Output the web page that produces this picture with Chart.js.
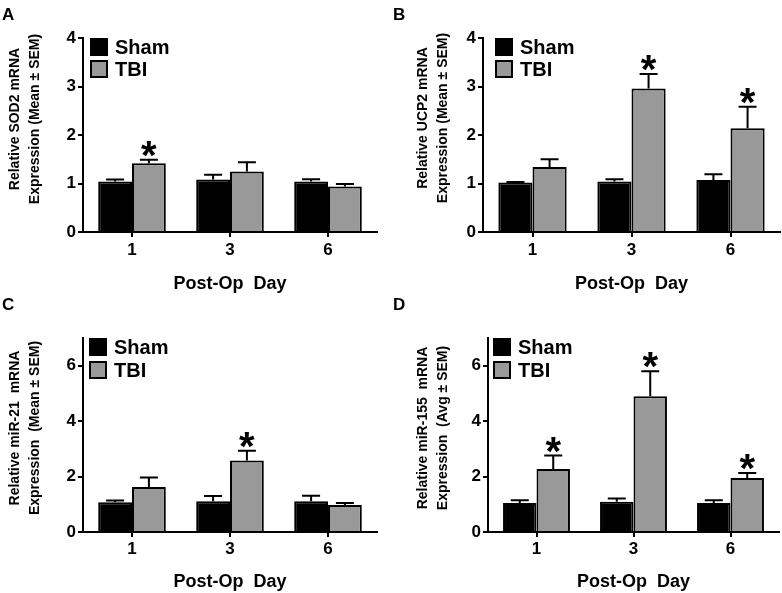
<!DOCTYPE html>
<html>
<head>
<meta charset="utf-8">
<script src="https://cdn.jsdelivr.net/npm/chart.js@4"></script>
<style>
  body { margin: 0; background: #fff; width: 782px; height: 593px; position: relative; overflow: hidden; }
  .panel { position: absolute; }
</style>
</head>
<body>
<div class="panel" style="left:0;top:0"><canvas id="chart-a" width="391" height="296"></canvas></div>
<div class="panel" style="left:391px;top:0"><canvas id="chart-b" width="391" height="296"></canvas></div>
<div class="panel" style="left:0;top:296px"><canvas id="chart-c" width="391" height="297"></canvas></div>
<div class="panel" style="left:391px;top:296px"><canvas id="chart-d" width="391" height="297"></canvas></div>
<script>
const FONT = "'Liberation Sans', Arial, Helvetica, sans-serif";
const DAYS = ['1', '3', '6'];
const SERIES = ['Sham', 'TBI'];

// A - SOD2
const SOD2_SHAM = [1.04, 1.08, 1.04];
const SOD2_SHAM_SEM = [0.04, 0.10, 0.05];
const SOD2_TBI = [1.42, 1.25, 0.94];
const SOD2_TBI_SEM = [0.07, 0.19, 0.05];
const SOD2_SIG = [1, 0, 0];

// B - UCP2
const UCP2_SHAM = [1.02, 1.04, 1.07];
const UCP2_SHAM_SEM = [0.01, 0.05, 0.12];
const UCP2_TBI = [1.34, 2.96, 2.14];
const UCP2_TBI_SEM = [0.16, 0.30, 0.44];
const UCP2_SIG = [0, 1, 1];

// C - miR-21
const MIR21_SHAM = [1.07, 1.11, 1.11];
const MIR21_SHAM_SEM = [0.07, 0.19, 0.20];
const MIR21_TBI = [1.62, 2.58, 0.97];
const MIR21_TBI_SEM = [0.35, 0.35, 0.08];
const MIR21_SIG = [0, 1, 0];

// D - miR-155
const MIR155_SHAM = [1.05, 1.09, 1.05];
const MIR155_SHAM_SEM = [0.10, 0.12, 0.10];
const MIR155_TBI = [2.27, 4.90, 1.95];
const MIR155_TBI_SEM = [0.49, 0.90, 0.18];
const MIR155_SIG = [1, 1, 1];

const PANELS = [
  { id: 'chart-a', letter: 'A', sham: SOD2_SHAM, shamSem: SOD2_SHAM_SEM, tbi: SOD2_TBI, tbiSem: SOD2_TBI_SEM, sig: SOD2_SIG,
    yTitle: ['Relative SOD2 mRNA', 'Expression (Mean \u00b1 SEM)'], max: 4, step: 1,
    axisX: 83, top: 38, right: 14, xHeight: 64, titleX: [15, 35], titleY: 119, legX: 90, legY: 38, legGap: 22, xTitlePad: 1, tickPad: 3, letterY: 20 },
  { id: 'chart-b', letter: 'B', sham: UCP2_SHAM, shamSem: UCP2_SHAM_SEM, tbi: UCP2_TBI, tbiSem: UCP2_TBI_SEM, sig: UCP2_SIG,
    yTitle: ['Relative UCP2 mRNA', 'Expression (Mean \u00b1 SEM)'], max: 4, step: 1,
    axisX: 92, top: 38, right: 2, xHeight: 64, titleX: [32, 52], titleY: 118, legX: 104, legY: 38, legGap: 22, xTitlePad: 1, tickPad: 3, letterY: 20 },
  { id: 'chart-c', letter: 'C', sham: MIR21_SHAM, shamSem: MIR21_SHAM_SEM, tbi: MIR21_TBI, tbiSem: MIR21_TBI_SEM, sig: MIR21_SIG,
    yTitle: ['Relative miR-21  mRNA', 'Expression  (Mean \u00b1 SEM)'], max: 7, step: 2,
    axisX: 83, top: 42, right: 14, xHeight: 61, titleX: [15, 35], titleY: 132, legX: 89, legY: 42, legGap: 23, xTitlePad: 0, tickPad: 2, letterY: 14 },
  { id: 'chart-d', letter: 'D', sham: MIR155_SHAM, shamSem: MIR155_SHAM_SEM, tbi: MIR155_TBI, tbiSem: MIR155_TBI_SEM, sig: MIR155_SIG,
    yTitle: ['Relative miR-155  mRNA', 'Expression  (Avg \u00b1 SEM)'], max: 7, step: 2,
    axisX: 97, top: 42, right: 3, xHeight: 61, titleX: [32, 52], titleY: 132, legX: 102, legY: 42, legGap: 23, xTitlePad: 0, tickPad: 2, letterY: 14 },
];

const GRAY = '#999999';

const decorPlugin = {
  id: 'decor',
  afterDatasetsDraw(chart, args, opts) {
    const ctx = chart.ctx;
    const yScale = chart.scales.y;
    ctx.save();
    ctx.strokeStyle = '#000';
    ctx.fillStyle = '#000';
    ctx.lineWidth = 2;
    chart.data.datasets.forEach((ds, di) => {
      const meta = chart.getDatasetMeta(di);
      meta.data.forEach((bar, i) => {
        const top = yScale.getPixelForValue(ds.data[i] + ds.sem[i]);
        ctx.beginPath();
        ctx.moveTo(bar.x, bar.y);
        ctx.lineTo(bar.x, top);
        ctx.moveTo(bar.x - 9, top);
        ctx.lineTo(bar.x + 9, top);
        ctx.stroke();
        if (ds.sig && ds.sig[i]) {
          // size the asterisk so the glyph is ~16px tall
          ctx.font = `bold 30px ${FONT}`;
          const m0 = ctx.measureText('*');
          const h0 = m0.actualBoundingBoxAscent + m0.actualBoundingBoxDescent;
          const size = 30 * 16 / h0;
          ctx.font = `bold ${size}px ${FONT}`;
          const m = ctx.measureText('*');
          ctx.textAlign = 'center';
          ctx.textBaseline = 'alphabetic';
          ctx.fillText('*', bar.x, top - 3 - m.actualBoundingBoxDescent);
        }
      });
    });
    ctx.restore();
  },
  afterDraw(chart, args, opts) {
    const p = opts.panel;
    const ctx = chart.ctx;
    ctx.save();
    ctx.fillStyle = '#000';
    // panel letter
    ctx.font = `bold 17px ${FONT}`;
    ctx.textAlign = 'left';
    ctx.textBaseline = 'alphabetic';
    ctx.fillText(p.letter, 2, p.letterY);
    // y axis title, two rotated lines
    ctx.font = `bold 14px ${FONT}`;
    ctx.textAlign = 'center';
    ctx.textBaseline = 'middle';
    p.yTitle.forEach((line, k) => {
      ctx.save();
      ctx.translate(p.titleX[k], p.titleY);
      ctx.rotate(-Math.PI / 2);
      ctx.fillText(line, 0, 0);
      ctx.restore();
    });
    // legend inside plot
    ctx.font = `bold 20px ${FONT}`;
    ctx.textAlign = 'left';
    chart.data.datasets.forEach((ds, di) => {
      const bx = p.legX, by = p.legY + di * p.legGap;
      ctx.fillStyle = ds.backgroundColor;
      ctx.fillRect(bx, by, 18, 18);
      ctx.strokeStyle = '#000';
      ctx.lineWidth = 2;
      ctx.strokeRect(bx + 1, by + 1, 16, 16);
      ctx.fillStyle = '#000';
      ctx.fillText(ds.label, bx + 25, by + 10);
    });
    ctx.restore();
  }
};

function makeChart(p) {
  const canvas = document.getElementById(p.id);
  return new Chart(canvas, {
    type: 'bar',
    data: {
      labels: DAYS,
      datasets: [
        { label: SERIES[0], data: p.sham, sem: p.shamSem, backgroundColor: '#000000', borderColor: '#000000', borderWidth: 2 },
        { label: SERIES[1], data: p.tbi, sem: p.tbiSem, sig: p.sig, backgroundColor: GRAY, borderColor: '#000000', borderWidth: 2 },
      ],
    },
    options: {
      responsive: false,
      animation: false,
      events: [],
      layout: { padding: { left: 0, top: p.top, right: p.right, bottom: 0 } },
      datasets: { bar: { categoryPercentage: 0.69, barPercentage: 1.0 } },
      plugins: {
        legend: { display: false },
        tooltip: { enabled: false },
        decor: { panel: p },
      },
      scales: {
        x: {
          grid: { display: true, offset: false, drawOnChartArea: false, drawTicks: true, tickLength: 5, color: '#000', lineWidth: 2 },
          border: { display: true, color: '#000', width: 2 },
          ticks: { color: '#000', font: { family: FONT, size: 17, weight: 'bold' }, padding: p.tickPad },
          title: { display: true, text: 'Post-Op  Day', color: '#000', font: { family: FONT, size: 18, weight: 'bold' }, padding: { top: 0, bottom: p.xTitlePad } },
          afterFit(scale) { scale.height = p.xHeight; },
        },
        y: {
          min: 0,
          max: p.max,
          grid: { display: true, drawOnChartArea: false, drawTicks: true, tickLength: 5, color: '#000', lineWidth: 2 },
          border: { display: true, color: '#000', width: 2 },
          ticks: { stepSize: p.step, color: '#000', font: { family: FONT, size: 17, weight: 'bold' }, padding: 2 },
          afterBuildTicks(scale) { scale.ticks = scale.ticks.filter(t => t.value % p.step === 0); },
          afterFit(scale) { scale.width = p.axisX; },
        },
      },
    },
    plugins: [decorPlugin],
  });
}

PANELS.forEach(makeChart);
</script>
</body>
</html>
